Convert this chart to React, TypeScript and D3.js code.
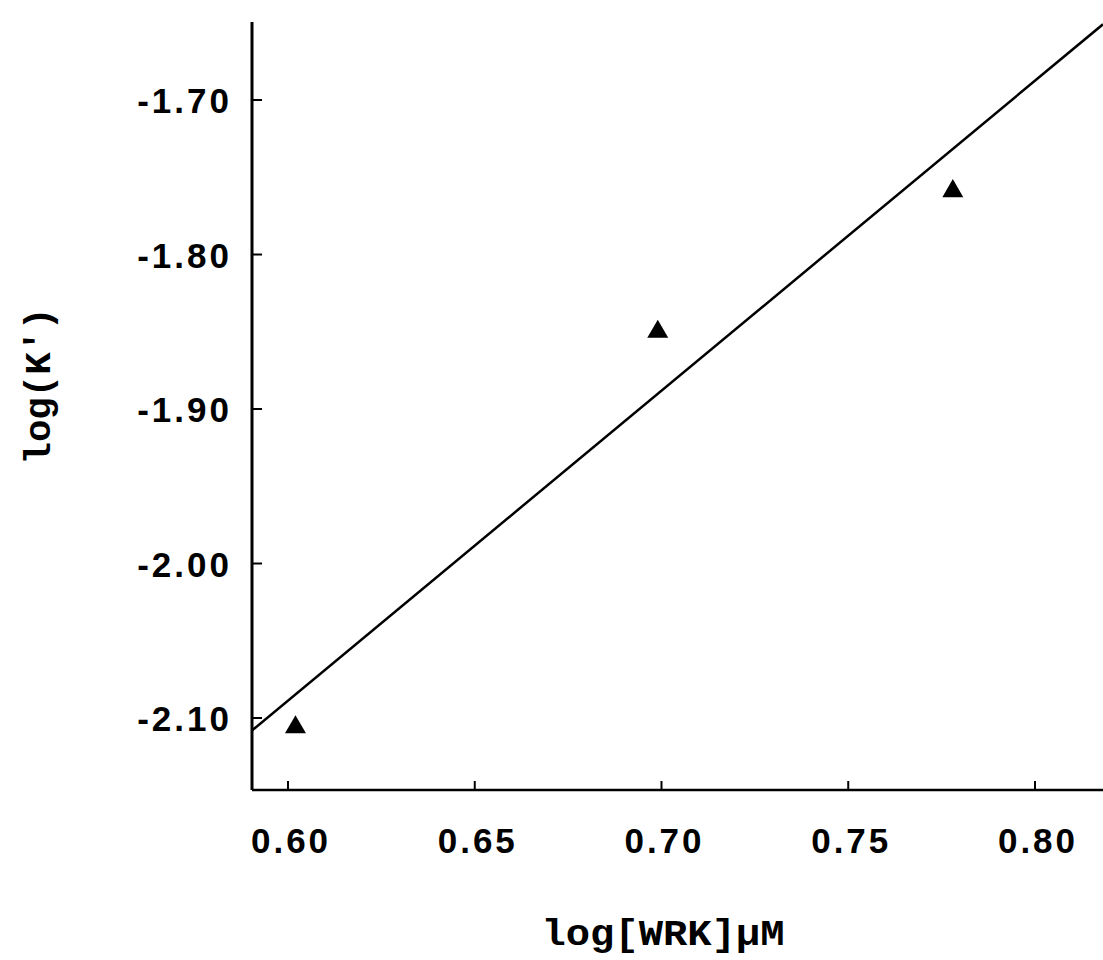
import React from "react";
import * as d3 from "d3";

const xTickValues = [0.6, 0.65, 0.7, 0.75, 0.8];
const xTickLabels = ["0.60", "0.65", "0.70", "0.75", "0.80"];
const yTickValues = [-1.7, -1.8, -1.9, -2.0, -2.1];
const yTickLabels = ["-1.70", "-1.80", "-1.90", "-2.00", "-2.10"];

const pointX = [0.602, 0.699, 0.778];
const pointY = [-2.106, -1.85, -1.759];

const fitX = [0.5904, 0.8182];
const fitY = [-2.108, -1.651];

const xTitle = "log[WRK]\u00b5M";
const yTitle = "log(K')";

const W = 1103;
const H = 960;
const left = 252;
const right = 1103;
const top = 22;
const bottom = 790;

export default function App() {
  const x = d3.scaleLinear().domain([0.59036, 0.81821]).range([left, right]);
  const y = d3.scaleLinear().domain([-2.1466, -1.6495]).range([bottom, top]);

  const lineGen = d3
    .line<number>()
    .x((_, i) => x(fitX[i]))
    .y((d) => y(d));

  const tri = d3.symbol().type(d3.symbolTriangle).size(190)();

  const tickFont = {
    fontFamily: "'Liberation Sans', Arial, sans-serif",
    fontWeight: 700,
    fontSize: 35,
    letterSpacing: 3,
  } as React.CSSProperties;
  const titleFont = {
    fontFamily: "'Liberation Mono', 'Courier New', monospace",
    fontWeight: 700,
    fontSize: 37,
  } as React.CSSProperties;

  return (
    <svg
      width={W}
      height={H}
      style={{ position: "absolute", left: 0, top: 0, background: "#fff" }}
    >
      <defs>
        <clipPath id="plot">
          <rect x={left} y={0} width={right - left + 20} height={bottom} />
        </clipPath>
      </defs>
      {/* axes */}
      <line x1={left} x2={left} y1={top} y2={bottom} stroke="#000" strokeWidth={3} />
      <line x1={left} x2={W} y1={bottom} y2={bottom} stroke="#000" strokeWidth={2.5} />
      {/* y ticks */}
      {yTickValues.map((v, i) => (
        <g key={"y" + i}>
          <line x1={left} x2={left + 10} y1={y(v)} y2={y(v)} stroke="#000" strokeWidth={2} />
          <text x={left - 20} y={y(v) + 13} textAnchor="end" style={tickFont}>
            {yTickLabels[i]}
          </text>
        </g>
      ))}
      {/* x ticks */}
      {xTickValues.map((v, i) => (
        <g key={"x" + i}>
          <line x1={x(v)} x2={x(v)} y1={bottom} y2={bottom - 9} stroke="#000" strokeWidth={2} />
          <text x={x(v) + 3} y={853} textAnchor="middle" style={tickFont}>
            {xTickLabels[i]}
          </text>
        </g>
      ))}
      {/* fit line */}
      <path
        d={lineGen(fitY) || ""}
        fill="none"
        stroke="#000"
        strokeWidth={2.5}
        clipPath="url(#plot)"
      />
      {/* points */}
      {pointX.map((px, i) => (
        <path
          key={"p" + i}
          d={tri || ""}
          transform={`translate(${x(px)},${y(pointY[i])})`}
          fill="#000"
        />
      ))}
      {/* titles */}
      <text x={663} y={945} textAnchor="middle" style={titleFont} textLength={243} lengthAdjust="spacingAndGlyphs">
        {xTitle}
      </text>
      <text
        transform={`translate(50,386) rotate(-90)`}
        textAnchor="middle"
        style={titleFont}
        textLength={157}
        lengthAdjust="spacingAndGlyphs"
      >
        {yTitle}
      </text>
    </svg>
  );
}
